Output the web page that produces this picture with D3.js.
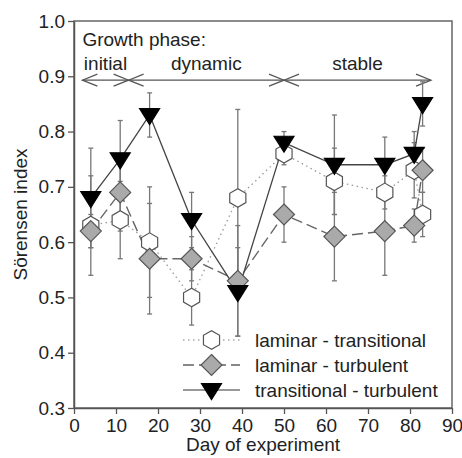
<!DOCTYPE html>
<html><head><meta charset="utf-8">
<script src="https://cdn.jsdelivr.net/npm/d3@7"></script>
<style>
html,body{margin:0;padding:0;background:#fff;}
text{font-family:"Liberation Sans",Arial,sans-serif;fill:#222;}
</style></head>
<body><svg id="chart" width="462" height="458"></svg>
<script>
const days = [4, 11, 18, 28, 39, 50, 62, 74, 81, 83];
const lamTrans = [0.63, 0.64, 0.60, 0.50, 0.68, 0.76, 0.71, 0.69, 0.73, 0.65];
const lamTransErr = [0.09, 0.07, 0.10, 0.05, 0.16, 0.02, 0.06, 0.03, 0.05, 0.04];
const lamTurb = [0.62, 0.69, 0.57, 0.57, 0.53, 0.65, 0.61, 0.62, 0.63, 0.73];
const lamTurbErr = [0.03, 0.07, 0.10, 0.04, 0.10, 0.05, 0.08, 0.08, 0.03, 0.04];
const transTurb = [0.68, 0.75, 0.83, 0.64, 0.51, 0.78, 0.74, 0.74, 0.76, 0.85];
const transTurbErr = [0.09, 0.07, 0.04, 0.05, 0.08, 0.02, 0.09, 0.05, 0.04, 0.04];
const seriesNames = ["laminar - transitional", "laminar - turbulent", "transitional - turbulent"];
const xTicks = [0, 10, 20, 30, 40, 50, 60, 70, 80, 90];
const yTicks = [0.3, 0.4, 0.5, 0.6, 0.7, 0.8, 0.9, 1.0];
const phaseBounds = [2, 13, 50, 85];
const phaseLabels = ["initial", "dynamic", "stable"];
const phaseTitle = "Growth phase:";
const phaseArrowY = 0.893;
const xTitle = "Day of experiment";
const yTitle = "Sörensen index";

const svg = d3.select("#chart");
const m = {l: 74, r: 452, t: 21, b: 408};
const x = d3.scaleLinear().domain([0, 90]).range([m.l, m.r]);
const y = d3.scaleLinear().domain([0.3, 1.0]).range([m.b, m.t]);
const axisCol = "#555";
const fs = 19;

// frame
svg.append("rect").attr("x", m.l).attr("y", m.t).attr("width", m.r - m.l).attr("height", m.b - m.t)
  .attr("fill", "none").attr("stroke", "#666").attr("stroke-width", 1.5);

// axes
const xAxis = svg.append("g").attr("transform", `translate(0,${m.b})`)
  .call(d3.axisBottom(x).tickValues(xTicks).tickFormat(d3.format("d")).tickSize(6).tickSizeOuter(0));
const yAxis = svg.append("g").attr("transform", `translate(${m.l},0)`)
  .call(d3.axisLeft(y).tickValues(yTicks).tickFormat(d3.format(".1f")).tickSize(6).tickSizeOuter(0));
[xAxis, yAxis].forEach(g => {
  g.select(".domain").attr("stroke", axisCol).attr("stroke-width", 1.5);
  g.selectAll(".tick line").attr("stroke", axisCol).attr("stroke-width", 1.3);
  g.selectAll(".tick text").attr("font-size", fs).attr("fill", "#222")
    .attr("font-family", "Liberation Sans, Arial, sans-serif");
});
xAxis.selectAll(".tick text").attr("dy", "0.95em").attr("y", 6);
yAxis.selectAll(".tick text").attr("x", -9);

svg.append("text").attr("x", (m.l + m.r) / 2).attr("y", 451).attr("text-anchor", "middle")
  .attr("font-size", fs).text(xTitle);
svg.append("text").attr("transform", `translate(27,${(m.t + m.b) / 2}) rotate(-90)`)
  .attr("text-anchor", "middle").attr("font-size", fs).text(yTitle);

// phase annotation
svg.append("text").attr("x", x(phaseBounds[0])).attr("y", 46).attr("font-size", fs).text(phaseTitle);
const ay = y(phaseArrowY);
const ag = svg.append("g").attr("stroke", "#555").attr("stroke-width", 1.2).attr("fill", "none");
ag.append("line").attr("x1", x(phaseBounds[0])).attr("x2", x(phaseBounds[phaseBounds.length - 1]))
  .attr("y1", ay).attr("y2", ay);
const hw = 15, hh = 6;
for (let i = 0; i < phaseLabels.length; i++) {
  const a = x(phaseBounds[i]), b = x(phaseBounds[i + 1]);
  ag.append("path").attr("d", `M${a + hw},${ay - hh}L${a},${ay}L${a + hw},${ay + hh}`);
  ag.append("path").attr("d", `M${b - hw},${ay - hh}L${b},${ay}L${b - hw},${ay + hh}`);
  svg.append("text").attr("x", (a + b) / 2).attr("y", 70).attr("text-anchor", "middle")
    .attr("font-size", fs).text(phaseLabels[i]);
}

// series
const series = [
  {vals: lamTrans, err: lamTransErr, dash: "1.5,3.5", stroke: "#999", lg: "#aaa", sw: 1.3, shape: "hex", fill: "#fff"},
  {vals: lamTurb, err: lamTurbErr, dash: "11,5", stroke: "#666", lg: "#888", sw: 1.4, shape: "diamond", fill: "#aaa"},
  {vals: transTurb, err: transTurbErr, dash: null, stroke: "#444", lg: "#777", sw: 1.3, shape: "tri", fill: "#000"}
];

// error bars
const eg = svg.append("g").attr("stroke", "#777").attr("stroke-width", 1.3);
series.forEach(s => {
  days.forEach((d, i) => {
    const cx = x(d), y1 = y(s.vals[i] + s.err[i]), y2 = y(s.vals[i] - s.err[i]);
    eg.append("line").attr("x1", cx).attr("x2", cx).attr("y1", y1).attr("y2", y2);
    eg.append("line").attr("x1", cx - 2.5).attr("x2", cx + 2.5).attr("y1", y1).attr("y2", y1);
    eg.append("line").attr("x1", cx - 2.5).attr("x2", cx + 2.5).attr("y1", y2).attr("y2", y2);
  });
});

const line = d3.line().x((d, i) => x(days[i])).y(d => y(d));
series.forEach(s => {
  svg.append("path").attr("d", line(s.vals)).attr("fill", "none")
    .attr("stroke", s.stroke).attr("stroke-width", s.sw)
    .attr("stroke-dasharray", s.dash);
});

function shapePath(shape, cx, cy) {
  if (shape === "hex") {
    const r = 9.3; let p = "";
    for (let k = 0; k < 6; k++) {
      const ang = Math.PI / 2 + k * Math.PI / 3;
      p += (k ? "L" : "M") + (cx + r * Math.cos(ang)) + "," + (cy + r * Math.sin(ang));
    }
    return p + "Z";
  }
  if (shape === "diamond") {
    const r = 10.5;
    return `M${cx},${cy - r}L${cx + r},${cy}L${cx},${cy + r}L${cx - r},${cy}Z`;
  }
  const w = 10, h = 16;
  return `M${cx - w},${cy - h * 0.4}L${cx + w},${cy - h * 0.4}L${cx},${cy + h * 0.6}Z`;
}

series.forEach(s => {
  svg.append("g").selectAll("path").data(s.vals).join("path")
    .attr("d", (v, i) => shapePath(s.shape, x(days[i]), y(v)))
    .attr("fill", s.fill).attr("stroke", s.shape === "tri" ? "#000" : "#555").attr("stroke-width", 1.2);
});

// legend
const lgX1 = 183, lgX2 = 240, lgTx = 255, lgY = [340, 365, 390];
series.forEach((s, i) => {
  svg.append("line").attr("x1", lgX1).attr("x2", lgX2).attr("y1", lgY[i]).attr("y2", lgY[i])
    .attr("stroke", s.lg).attr("stroke-width", s.sw + 0.4).attr("stroke-dasharray", s.dash);
  svg.append("path").attr("d", shapePath(s.shape, (lgX1 + lgX2) / 2, lgY[i]))
    .attr("fill", s.fill).attr("stroke", s.shape === "tri" ? "#000" : "#555").attr("stroke-width", 1.2);
  svg.append("text").attr("x", lgTx).attr("y", lgY[i]).attr("dy", "0.35em")
    .attr("font-size", fs).text(seriesNames[i]);
});
</script></body></html>
